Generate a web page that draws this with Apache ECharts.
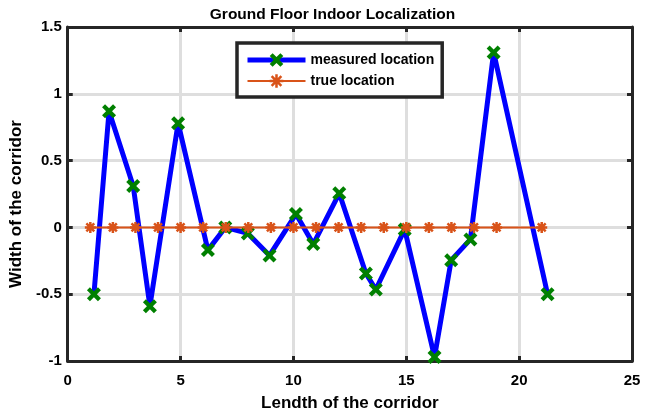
<!DOCTYPE html>
<html>
<head>
<meta charset="utf-8">
<script src="https://cdn.jsdelivr.net/npm/echarts@6/dist/echarts.min.js"></script>
<style>
html,body{margin:0;padding:0;background:#fff;}
#chart{width:665px;height:417px;}
</style>
</head>
<body>
<div id="chart"></div>
<script>
// Data
var measuredX = [1.16, 1.83, 2.90, 3.64, 4.89, 6.21, 6.98, 7.98, 8.94, 10.11, 10.88, 12.03, 13.21, 13.65, 14.93, 16.25, 16.99, 17.84, 18.87, 21.26];
var measuredY = [-0.50, 0.87, 0.31, -0.59, 0.78, -0.17, 0.00, -0.045, -0.21, 0.10, -0.125, 0.255, -0.345, -0.465, -0.015, -0.97, -0.245, -0.09, 1.31, -0.50];
var trueX = [1, 2, 3, 4, 5, 6, 7, 8, 9, 10, 11, 12, 13, 14, 15, 16, 17, 18, 19, 21];
var trueY = [0, 0, 0, 0, 0, 0, 0, 0, 0, 0, 0, 0, 0, 0, 0, 0, 0, 0, 0, 0];
var xTicks = [0, 5, 10, 15, 20, 25];
var yTicks = [-1, -0.5, 0, 0.5, 1, 1.5];

var titleText = 'Ground Floor Indoor Localization';
var xName = 'Lendth of the corridor';
var yName = 'Width of the corridor';
var seriesNames = ['measured location', 'true location'];

function pairs(xs, ys) { return xs.map(function (x, i) { return [x, ys[i]]; }); }

var FONT = '"Liberation Sans", Arial, sans-serif';
var DARK = '#262626';
var xMarker = 'path://M-4,-7 L0,-3 L4,-7 L7,-4 L3,0 L7,4 L4,7 L0,3 L-4,7 L-7,4 L-3,0 L-7,-4 Z';
var starMarker = 'path://M0,-6L0,6M-6,0L6,0M-4.3,-4.3L4.3,4.3M-4.3,4.3L4.3,-4.3';

var chart = echarts.init(document.getElementById('chart'), null, {renderer: 'canvas'});

var baseX = {
  type: 'value', min: xTicks[0], max: xTicks[xTicks.length - 1], interval: 5,
  axisLine: {show: true, onZero: false, lineStyle: {color: DARK, width: 3}},
  axisTick: {show: true, inside: true, length: 5, lineStyle: {color: DARK, width: 3}}
};
var baseY = {
  type: 'value', min: yTicks[0], max: yTicks[yTicks.length - 1], interval: 0.5,
  axisLine: {show: true, onZero: false, lineStyle: {color: DARK, width: 3}},
  axisTick: {show: true, inside: true, length: 5, lineStyle: {color: DARK, width: 3}}
};

var option = {
  animation: false,
  backgroundColor: '#ffffff',
  title: {
    text: titleText, left: 'center', top: 2,
    textStyle: {fontFamily: FONT, fontSize: 15.5, fontWeight: 'bold', color: '#000'}
  },
  grid: {left: 66, right: 33, top: 27, bottom: 56, containLabel: false},
  legend: {
    orient: 'vertical', left: 237, top: 43,
    backgroundColor: '#fff', borderColor: DARK, borderWidth: 3.5, borderRadius: 0,
    padding: [10, 8, 8, 8], itemGap: 6, itemWidth: 58, itemHeight: 17,
    lineStyle: {width: 'inherit'},
    itemStyle: {borderWidth: 'inherit'},
    textStyle: {fontFamily: FONT, fontSize: 14, fontWeight: 'bold', color: '#000'},
    data: seriesNames
  },
  xAxis: [
    Object.assign({}, baseX, {
      position: 'bottom',
      name: xName, nameLocation: 'middle', nameGap: 34,
      nameTextStyle: {fontFamily: FONT, fontSize: 17, fontWeight: 'bold', color: '#000'},
      axisLabel: {show: true, margin: 12, fontFamily: FONT, fontSize: 15, fontWeight: 'bold', color: '#000'},
      splitLine: {show: true, lineStyle: {color: '#dedede', width: 3}}
    }),
    Object.assign({}, baseX, {
      position: 'top', axisLabel: {show: false}, splitLine: {show: false}
    })
  ],
  yAxis: [
    Object.assign({}, baseY, {
      position: 'left',
      name: yName, nameLocation: 'middle', nameGap: 32, nameRotate: 90,
      nameTextStyle: {fontFamily: FONT, fontSize: 17, fontWeight: 'bold', color: '#000', padding: [0, 20, 0, 0]},
      axisLabel: {show: true, margin: 6, fontFamily: FONT, fontSize: 15, fontWeight: 'bold', color: '#000'},
      splitLine: {show: true, lineStyle: {color: '#dedede', width: 3}}
    }),
    Object.assign({}, baseY, {
      position: 'right', axisLabel: {show: false}, splitLine: {show: false}
    })
  ],
  series: [
    {
      name: seriesNames[0], type: 'line', xAxisIndex: 0, yAxisIndex: 0,
      data: pairs(measuredX, measuredY),
      lineStyle: {color: '#0000ff', width: 5},
      symbol: xMarker, symbolSize: 14, showAllSymbol: true,
      itemStyle: {color: '#008000', borderWidth: 0}
    },
    {
      name: seriesNames[1], type: 'line', xAxisIndex: 0, yAxisIndex: 0,
      data: pairs(trueX, trueY),
      lineStyle: {color: '#D95319', width: 2},
      symbol: starMarker, symbolSize: 11, showAllSymbol: true,
      itemStyle: {color: '#D95319', borderColor: '#D95319', borderWidth: 2.5}
    }
  ]
};
chart.setOption(option);
</script>
</body>
</html>
